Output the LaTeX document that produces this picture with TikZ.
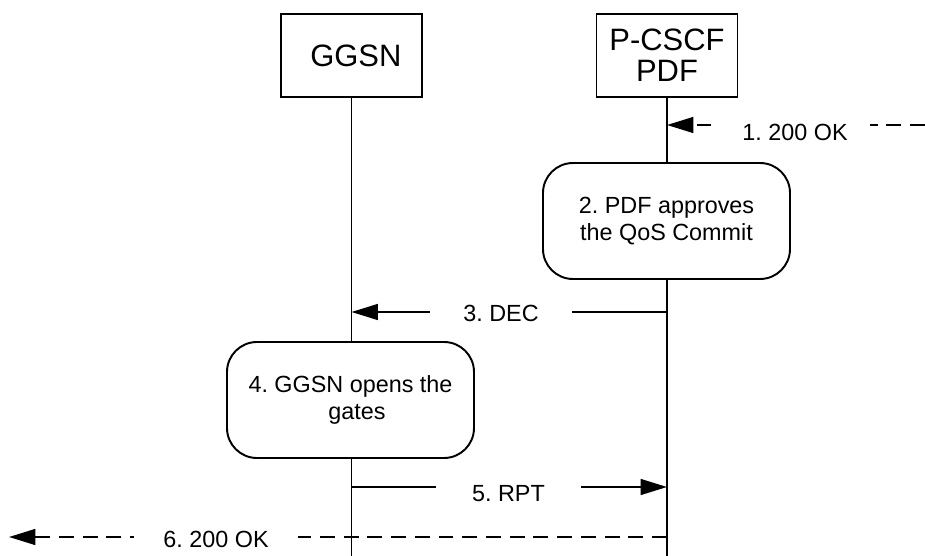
\documentclass[tikz,border=0pt]{standalone}
\usepackage{fontspec}
\setmainfont{Liberation Sans}
\frenchspacing
\usetikzlibrary{arrows.meta}
\tikzset{
  entity/.style={draw, line width=1.1pt, fill=white, minimum width=2.82cm, minimum height=1.66cm, align=center, font=\fontsize{17.6}{17.6}\selectfont},
  action/.style={draw, line width=1.1pt, fill=white, rounded corners=0.6cm, minimum width=4.94cm, minimum height=2.32cm, align=center, font=\fontsize{13.3}{15.3}\selectfont},
  msglabel/.style={fill=white, inner sep=2pt, font=\fontsize{13.3}{15.3}\selectfont},
  life/.style={line width=1.1pt},
  msg/.style={line width=1.1pt, -{Triangle[length=15pt,width=9pt]}},
  msgdash/.style={msg, dash pattern=on 8.5pt off 5pt}
}

\begin{document}
\begin{tikzpicture}
        \useasboundingbox (0,0) rectangle (18.5,-11.12);
        %entities
        \node[entity] (ggsn) at (7.03,-1.11) {\ GGSN};
        \node[entity] (pcscf) at (13.34,-1.11) {P-CSCF\\PDF};
        %lifelines
        \coordinate (ggsnend) at (ggsn.south |- 0,-11.12);
        \coordinate (pcscfend) at (pcscf.south |- 0,-11.12);
        \draw[life] (ggsn.south) -- (ggsnend);
        \draw[life] (pcscf.south) -- (pcscfend);
        %actions
        \node[action] (approve) at (13.33,-4.42) {2. PDF approves\\the QoS Commit};
        \node[action] (gates) at (7.01,-8.0) {4. GGSN opens the\\\ \ gates};
        %messages
        \coordinate (m1src) at (18.5,-2.5);
        \coordinate (m1dst) at (pcscf.south |- m1src);
        \draw[msgdash] (m1src) -- (m1dst);
        \node[msglabel, minimum width=3.0cm] (ok1) at (15.9,-2.64) {1. 200 OK};
        \coordinate (m3src) at (pcscf.south |- 0,-6.24);
        \coordinate (m3dst) at (ggsn.south |- m3src);
        \draw[msg] (m3src) -- (m3dst);
        \node[msglabel, minimum width=2.85cm] (dec) at (10.02,-6.26) {3. DEC};
        \coordinate (m5src) at (ggsn.south |- 0,-9.74);
        \coordinate (m5dst) at (pcscf.south |- m5src);
        \draw[msg] (m5src) -- (m5dst);
        \node[msglabel, minimum width=2.9cm] (rpt) at (10.17,-9.88) {5. RPT};
        \coordinate (m6src) at (pcscf.south |- 0,-10.74);
        \coordinate (m6dst) at (0.18,-10.74);
        \draw[msgdash] (m6src) -- (m6dst);
        \node[msglabel, minimum width=3.28cm] (ok6) at (4.32,-10.78) {6. 200 OK};
\end{tikzpicture}
\end{document}
